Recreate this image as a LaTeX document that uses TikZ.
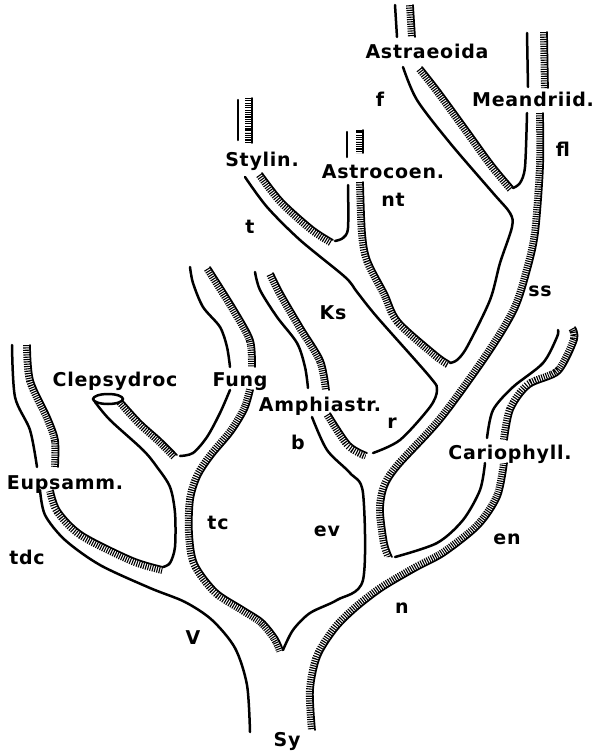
\documentclass[tikz,border=0pt]{standalone}
\usepackage{fontspec}
\setmainfont{DejaVu Sans}
\newfontfamily\handfont[LetterSpace=4]{DejaVu Sans}

\newcommand{\hatchwall}[2]{%
  \begin{scope}
    \clip plot[smooth] coordinates {#1} #2;
    \draw[band] plot[smooth] coordinates {#1};
  \end{scope}
  \draw[edge] plot[smooth] coordinates {#1};
}

\begin{document}
\begin{tikzpicture}[
    x=1pt, y=-1pt,
    wall/.style={line width=2.5pt, line cap=round, line join=round},
    edge/.style={line width=1.7pt, line cap=round, line join=round},
    band/.style={line width=14pt, dash pattern=on 1.1pt off 1.2pt},
    lab/.style={font=\fontsize{19}{22}\selectfont\handfont\bfseries, inner sep=0pt, text height=13pt, text depth=0pt}
]
\useasboundingbox (0,0) rectangle (597,752);

% solid walls
\draw[wall] plot[smooth] coordinates {(12,345) (15,397) (30,430) (37,467)};
\draw[wall] plot[smooth] coordinates {(40,490) (45,515) (65,540) (100,565) (150,588) (185,602) (212,620) (235,648) (247,685) (250,732)};
\draw[wall] plot[smooth] coordinates {(95,402) (110,420) (143,450) (157,467) (170,487) (175,513) (175,547) (170,563) (163,567)};
\draw[wall] (108,399) ellipse [x radius=15, y radius=5];
\draw[wall] plot[smooth] coordinates {(180,456) (193,453) (207,437) (220,413) (230,390)};
\draw[wall] plot[smooth] coordinates {(190,267) (193,283) (203,307) (220,327) (227,347) (230,367)};
\draw[wall] plot[smooth] coordinates {(255,272) (260,290) (277,317) (297,343) (305,367) (308,388)};
\draw[wall] plot[smooth] coordinates {(312,417) (327,450) (350,473) (363,493) (363,580) (337,600) (310,613) (293,630) (283,650)};
\draw[wall] plot[smooth] coordinates {(245,177) (267,207) (300,240) (345,277) (357,292) (377,317) (430,377) (437,390) (430,407) (400,440) (373,453)};
\draw[wall] (238,100) -- (238,140);
\draw[wall] plot[smooth] coordinates {(348,185) (348,228) (343,238) (335,241)};
\draw[wall] (347,132) -- (347,157);
\draw[wall] plot[smooth] coordinates {(403,67) (417,100) (450,143) (493,193) (510,213) (512,227) (500,263) (490,300) (467,347) (457,360) (450,363)};
\draw[wall] (395,5) -- (397,37);
\draw[wall] (527,33) -- (528,87);
\draw[wall] plot[smooth] coordinates {(527,113) (525,167) (520,183) (513,188)};
\draw[wall] plot[smooth] coordinates {(395,557) (437,543) (463,520) (480,490) (485,463)};
\draw[wall] plot[smooth] coordinates {(487,438) (493,410) (513,387) (543,363) (557,337) (558,330)};

% hatched walls
\hatchwall{(30,345) (33,380) (50,417) (58,440) (58,467)}{-- (30,467) -- (5,345) -- cycle}
\hatchwall{(53,490) (60,510) (83,533) (133,558) (163,567)}{-- (163,600) -- (20,500) -- cycle}
\hatchwall{(122,400) (141,421) (161,439) (177,455)}{-- (165,475) -- (105,415) -- cycle}
\hatchwall{(210,267) (237,310) (253,340) (255,367)}{-- (235,367) -- (190,270) -- cycle}
\hatchwall{(253,390) (247,410) (233,433) (213,457) (200,477) (193,500) (192,533) (197,563) (217,590) (243,607) (263,620) (277,637) (283,650)}{-- (270,680) -- (150,600) -- (160,450) -- (230,385) -- cycle}
\hatchwall{(273,273) (283,293) (303,327) (323,360) (329,390)}{-- (305,392) -- (250,275) -- cycle}
\hatchwall{(330,413) (350,443) (367,453)}{-- (360,470) -- (310,415) -- cycle}
\hatchwall{(252,98) (252,143)}{-- (230,143) -- (230,98) -- cycle}
\hatchwall{(262,173) (283,200) (313,227) (333,240)}{-- (325,262) -- (245,185) -- cycle}
\hatchwall{(363,130) (363,153)}{-- (343,153) -- (343,130) -- cycle}
\hatchwall{(363,182) (365,233) (370,260) (387,293) (400,320) (437,353) (450,362)}{-- (440,380) -- (380,330) -- (343,260) -- (343,182) -- cycle}
\hatchwall{(413,5) (415,37)}{-- (395,37) -- (393,5) -- cycle}
\hatchwall{(422,67) (440,90) (467,127) (493,163) (513,187)}{-- (500,205) -- (405,75) -- cycle}
\hatchwall{(547,32) (548,88)}{-- (528,88) -- (527,32) -- cycle}
\hatchwall{(543,113) (543,167) (538,233) (530,270) (517,310) (490,355) (443,420) (400,467) (387,487) (383,510) (387,543) (392,557)}{-- (370,557) -- (365,500) -- (420,420) -- (500,320) -- (520,233) -- (523,113) -- cycle}
\hatchwall{(575,327) (577,340) (560,373) (530,387) (513,410) (507,440)}{-- (487,440) -- (495,400) -- (540,360) -- (555,327) -- cycle}
\hatchwall{(507,463) (500,497) (480,527) (445,555) (417,570) (383,590) (357,610) (337,630) (320,657) (313,690) (315,730)}{-- (290,730) -- (292,660) -- (320,620) -- (380,575) -- (440,540) -- (470,510) -- (485,463) -- cycle}

\node[lab] (astraeoida) at (427,52) {Astraeoida};
\node[lab] (lblf) at (380,100) {f};
\node[lab] (meandriid) at (533,100) {Meandriid.};
\node[lab] (lblfl) at (563,150) {fl};
\node[lab] (stylin) at (262,160) {Stylin.};
\node[lab] (astrocoen) at (383,172) {Astrocoen.};
\node[lab] (lblnt) at (393,200) {nt};
\node[lab] (lblt) at (250,227) {t};
\node[lab] (lblss) at (540,290) {ss};
\node[lab] (lblks) at (333,313) {Ks};
\node[lab] (clepsydroc) at (115,380) {Clepsydroc};
\node[lab] (fung) at (240,380) {Fung};
\node[lab] (amphiastr) at (320,405) {Amphiastr.};
\node[lab] (lblr) at (392,422) {r};
\node[lab] (lblb) at (298,443) {b};
\node[lab] (cariophyll) at (510,453) {Cariophyll.};
\node[lab] (eupsamm) at (65,483) {Eupsamm.};
\node[lab] (lbltc) at (218,523) {tc};
\node[lab] (lblev) at (327,530) {ev};
\node[lab] (lblen) at (507,538) {en};
\node[lab] (lbltdc) at (27,558) {tdc};
\node[lab] (lbln) at (402,607) {n};
\node[lab] (lblv) at (193,638) {V};
\node[lab] (lblsy) at (287,740) {Sy};

\end{tikzpicture}
\end{document}
